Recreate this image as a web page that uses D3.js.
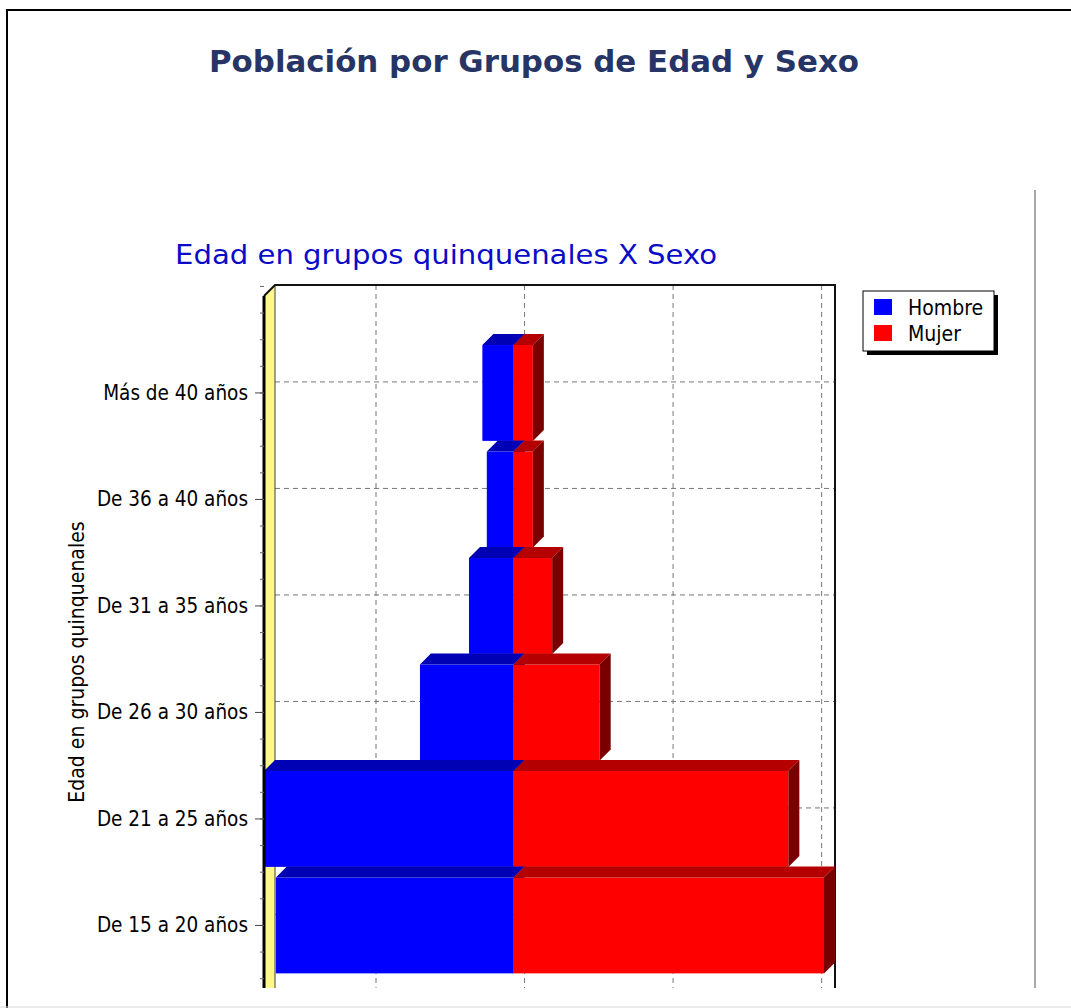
<!DOCTYPE html>
<html>
<head>
<meta charset="utf-8">
<script src="https://cdn.jsdelivr.net/npm/d3@7"></script>
<style>
  body { margin: 0; background: #fff; }
  svg { display: block; }
  text { font-family: "DejaVu Sans Condensed", "DejaVu Sans", sans-serif; }
</style>
</head>
<body>
<div id="chart"></div>
<script>
// age groups, top to bottom as drawn
var categories = ["Más de 40 años", "De 36 a 40 años", "De 31 a 35 años",
                  "De 26 a 30 años", "De 21 a 25 años", "De 15 a 20 años"];
var hombres = [21, 18, 30, 63, 168, 160];
var mujeres = [13, 13, 26, 58, 185, 209];
var seriesNames = ["Hombre", "Mujer"];
var valueTicks = [-100, 0, 100, 200];

var W = 1071, H = 1008, DEPTH = 11;
var colors = {
    Hombre: { front: "#0000ff", top: "#0000b4", side: "#00007a" },
    Mujer:  { front: "#ff0000", top: "#b40000", side: "#7a0000" }
};

var svg = d3.select("#chart").append("svg")
    .attr("width", W)
    .attr("height", H);

// outer frame
svg.append("rect").attr("x", 7).attr("y", 10).attr("width", W + 10).attr("height", 1020)
    .attr("fill", "none").attr("stroke", "#000").attr("stroke-width", 2);
svg.append("line").attr("x1", 0).attr("x2", W).attr("y1", 1007).attr("y2", 1007)
    .attr("stroke", "#d8d8d8").attr("stroke-width", 1);
svg.append("rect").attr("x", 0).attr("y", 1008).attr("width", W).attr("height", 10).attr("fill", "#fff");

svg.append("text")
    .attr("x", 534).attr("y", 72)
    .attr("text-anchor", "middle")
    .attr("font-size", 30).attr("font-weight", "bold")
    .attr("fill", "#263566")
    .attr("textLength", 650).attr("lengthAdjust", "spacingAndGlyphs")
    .text("Población por Grupos de Edad y Sexo");

// right separator
svg.append("line").attr("x1", 1035).attr("x2", 1035).attr("y1", 190).attr("y2", 988)
    .attr("stroke", "#a8a8a8").attr("stroke-width", 2);

svg.append("text")
    .attr("x", 446).attr("y", 264)
    .attr("text-anchor", "middle")
    .attr("font-size", 27)
    .attr("fill", "#0a0ac8")
    .attr("textLength", 542).attr("lengthAdjust", "spacingAndGlyphs")
    .text("Edad en grupos quinquenales X Sexo");

var x = d3.scaleLinear()
    .domain([-d3.max(hombres), d3.max(mujeres)])
    .range([264, 824]);

var y = d3.scaleBand()
    .domain(categories)
    .range([339.7, 978.7])
    .paddingInner(0.1)
    .paddingOuter(0.05);

var plotTop = 296, plotBottom = 988;

svg.append("clipPath").attr("id", "clip")
    .append("rect").attr("x", 0).attr("y", 0).attr("width", W).attr("height", plotBottom);

var plot = svg.append("g").attr("clip-path", "url(#clip)");

var backL = x.range()[0] + DEPTH, backR = x.range()[1] + DEPTH, backT = plotTop - DEPTH;

// gridlines on the back plane
plot.selectAll("line.vgrid")
    .data(valueTicks).enter().append("line")
    .attr("class", "vgrid")
    .attr("x1", function (d) { return x(d) + DEPTH; })
    .attr("x2", function (d) { return x(d) + DEPTH; })
    .attr("y1", backT).attr("y2", plotBottom)
    .attr("stroke", "#777").attr("stroke-dasharray", "5,4");

plot.selectAll("line.hgrid")
    .data(categories).enter().append("line")
    .attr("class", "hgrid")
    .attr("x1", backL).attr("x2", backR)
    .attr("y1", function (d) { return y(d) + y.bandwidth() / 2 - DEPTH; })
    .attr("y2", function (d) { return y(d) + y.bandwidth() / 2 - DEPTH; })
    .attr("stroke", "#777").attr("stroke-dasharray", "5,4");

// left wall
var x0 = x.range()[0];
plot.append("polygon")
    .attr("points", [[x0, plotTop], [x0 + DEPTH, backT], [x0 + DEPTH, plotBottom], [x0, plotBottom]].join(" "))
    .attr("fill", "#fff78a");
plot.append("line").attr("x1", x0 + DEPTH).attr("x2", x0 + DEPTH).attr("y1", backT).attr("y2", plotBottom)
    .attr("stroke", "#404040").attr("stroke-width", 1);
plot.append("polyline")
    .attr("points", [[x0, plotTop], [x0 + DEPTH, backT], [backR, backT], [backR, plotBottom]].join(" "))
    .attr("fill", "none").attr("stroke", "#111").attr("stroke-width", 2);

// bars: one row per category, drawn top to bottom
var rows = categories.map(function (c, i) {
    return [
        { cat: c, name: "Hombre", v0: -hombres[i], v1: 0 },
        { cat: c, name: "Mujer", v0: 0, v1: mujeres[i] }
    ];
});

function drawBar(g, d) {
    var xa = x(d.v0), xb = x(d.v1), yt = y(d.cat), yb = yt + y.bandwidth();
    var c = colors[d.name];
    g.append("rect")
        .attr("x", xa).attr("y", yt)
        .attr("width", xb - xa).attr("height", yb - yt)
        .attr("fill", c.front);
    g.append("polygon")
        .attr("points", [[xa, yt], [xa + DEPTH, yt - DEPTH], [xb + DEPTH, yt - DEPTH], [xb, yt]].join(" "))
        .attr("fill", c.top);
    g.append("polygon")
        .attr("points", [[xb, yt], [xb + DEPTH, yt - DEPTH], [xb + DEPTH, yb - DEPTH], [xb, yb]].join(" "))
        .attr("fill", c.side);
}

var bars = plot.append("g");
rows.forEach(function (row) {
    var g = bars.append("g");
    row.forEach(function (d) { drawBar(g, d); });
});

// category axis line + ticks
plot.append("line").attr("x1", x0).attr("x2", x0).attr("y1", plotTop).attr("y2", plotBottom)
    .attr("stroke", "#000").attr("stroke-width", 3);

var step = y.step();
var minor = d3.range(y(categories[0]) + y.bandwidth() / 2 - step, plotBottom, step / 4);
plot.selectAll("line.minor")
    .data(minor).enter().append("line")
    .attr("x1", x0 - 4).attr("x2", x0)
    .attr("y1", function (d) { return d; }).attr("y2", function (d) { return d; })
    .attr("stroke", "#666");

var yAxis = d3.axisLeft(y).tickSize(8).tickPadding(7);
var ax = svg.append("g").attr("transform", "translate(" + (x0 - 1) + ",0)").call(yAxis);
ax.select(".domain").remove();
ax.selectAll(".tick line").attr("stroke", "#444");
ax.selectAll(".tick text")
    .attr("font-size", 20.5)
    .attr("font-family", "'DejaVu Sans', sans-serif")
    .attr("fill", "#000");

svg.append("text")
    .attr("transform", "translate(84,662) rotate(-90)")
    .attr("text-anchor", "middle")
    .attr("font-size", 21)
    .attr("font-family", "'DejaVu Sans', sans-serif")
    .attr("fill", "#000")
    .text("Edad en grupos quinquenales");

// legend
var legend = svg.append("g").attr("transform", "translate(863,291)");
legend.append("rect").attr("x", 4).attr("y", 4).attr("width", 131).attr("height", 60).attr("fill", "#000");
legend.append("rect").attr("x", 0).attr("y", 0).attr("width", 131).attr("height", 60)
    .attr("fill", "#fff").attr("stroke", "#000").attr("stroke-width", 1);
var li = legend.selectAll("g.item")
    .data(seriesNames).enter().append("g")
    .attr("transform", function (d, i) { return "translate(11," + (8 + i * 26) + ")"; });
li.append("rect").attr("width", 18).attr("height", 16)
    .attr("fill", function (d) { return colors[d].front; });
li.append("text").attr("x", 34).attr("y", 16)
    .attr("font-size", 21).attr("fill", "#000")
    .text(function (d) { return d; });
</script>
</body>
</html>
